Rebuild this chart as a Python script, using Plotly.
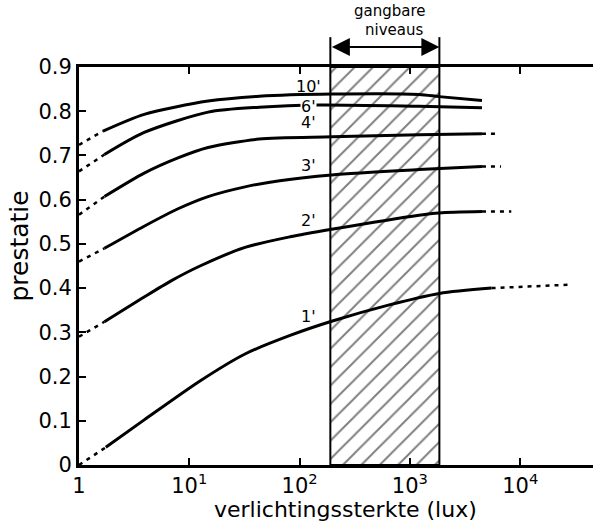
import math
import plotly.graph_objects as go

# ---------------- data ----------------
x_tick_vals = [1, 10, 100, 1000, 10000]
x_tick_text = ["1", "10<sup>1</sup>", "10<sup>2</sup>", "10<sup>3</sup>", "10<sup>4</sup>"]
y_tick_vals = [0, 0.1, 0.2, 0.3, 0.4, 0.5, 0.6, 0.7, 0.8, 0.9]
y_tick_text = ["0", "0.1", "0.2", "0.3", "0.4", "0.5", "0.6", "0.7", "0.8", "0.9"]
x_max_lux = 45700
y_max = 0.9

hatch_lux = [190, 1850]          # "gangbare niveaus"

curve_labels = ["10'", "6'", "4'", "3'", "2'", "1'"]
label_lux = 120
label_y = [0.857, 0.811, 0.774, 0.677, 0.554, 0.335]

# solid parts (lux, prestatie)
c10_x = [1.65, 3.9, 14.8, 43, 197, 1210, 1840, 4500]
c10_y = [0.755, 0.793, 0.823, 0.834, 0.839, 0.838, 0.833, 0.824]
c6_x = [1.7, 3.9, 14.8, 43, 150, 1210, 4500]
c6_y = [0.702, 0.752, 0.798, 0.809, 0.814, 0.811, 0.808]
c4_x = [1.7, 3.9, 8, 14.8, 43, 197, 1210, 4500]
c4_y = [0.607, 0.660, 0.695, 0.718, 0.737, 0.742, 0.747, 0.749]
c3_x = [1.7, 3.9, 8, 14.8, 32, 66, 195, 1210, 4500]
c3_y = [0.490, 0.540, 0.580, 0.607, 0.629, 0.643, 0.656, 0.668, 0.675]
c2_x = [1.7, 3.9, 6.9, 12.5, 32, 82, 195, 1210, 1850, 4500]
c2_y = [0.324, 0.380, 0.417, 0.450, 0.492, 0.516, 0.533, 0.565, 0.570, 0.573]
c1_x = [1.75, 3.9, 12.5, 32, 82, 195, 650, 1850, 5500]
c1_y = [0.040, 0.102, 0.190, 0.251, 0.293, 0.325, 0.362, 0.388, 0.400]

# dotted lead-in parts (from 1 lux)
lead10_x, lead10_y = [1, 1.65], [0.724, 0.755]
lead6_x, lead6_y = [1, 1.7], [0.664, 0.702]
lead4_x, lead4_y = [1, 1.7], [0.566, 0.607]
lead3_x, lead3_y = [1, 1.7], [0.460, 0.490]
lead2_x, lead2_y = [1, 1.7], [0.290, 0.324]
lead1_x, lead1_y = [1, 1.75], [0.000, 0.040]

# dotted extensions
tail4_x, tail4_y = [4500, 6500], [0.749, 0.749]
tail3_x, tail3_y = [4500, 6700], [0.675, 0.675]
tail2_x, tail2_y = [4500, 8300], [0.573, 0.573]
tail1_x, tail1_y = [5500, 29500], [0.400, 0.408]

# ---------------- figure ----------------
FONT = "DejaVu Sans"
fig = go.Figure()

# hatched region
hx = [hatch_lux[0], hatch_lux[1], hatch_lux[1], hatch_lux[0], hatch_lux[0]]
hy = [0, 0, y_max, y_max, 0]
fig.add_trace(go.Scatter(
    x=hx, y=hy, mode="lines", fill="toself",
    fillcolor="white",
    fillpattern=dict(shape="/", fgcolor="black", bgcolor="white", size=13, solidity=0.15),
    line=dict(color="black", width=2), hoverinfo="skip", showlegend=False))

solid = [(c10_x, c10_y), (c6_x, c6_y), (c4_x, c4_y), (c3_x, c3_y), (c2_x, c2_y), (c1_x, c1_y)]
for xs, ys in solid:
    fig.add_trace(go.Scatter(x=xs, y=ys, mode="lines",
                             line=dict(color="black", width=3, shape="spline", smoothing=0.75),
                             showlegend=False, hoverinfo="skip"))

dotted = [(lead10_x, lead10_y), (lead6_x, lead6_y), (lead4_x, lead4_y), (lead3_x, lead3_y),
          (lead2_x, lead2_y), (lead1_x, lead1_y),
          (tail4_x, tail4_y), (tail3_x, tail3_y), (tail2_x, tail2_y), (tail1_x, tail1_y)]
for xs, ys in dotted:
    fig.add_trace(go.Scatter(x=xs, y=ys, mode="lines",
                             line=dict(color="black", width=2.5, dash="4px,5px"),
                             showlegend=False, hoverinfo="skip"))

# curve labels
for lab, ly in zip(curve_labels, label_y):
    fig.add_annotation(x=math.log10(label_lux), y=ly, text=lab, showarrow=False,
                       font=dict(family=FONT, size=16, color="black"),
                       bgcolor="white" if lab == "6'" else None, borderpad=0)

# bracket above hatched region
top_paper = 1.075
for hxv in hatch_lux:
    fig.add_shape(type="line", xref="x", yref="paper",
                  x0=hxv, x1=hxv, y0=1, y1=top_paper,
                  line=dict(color="black", width=2))
arrow_paper = 1.05
fig.add_annotation(x=math.log10(hatch_lux[1]), y=arrow_paper, ax=math.log10(hatch_lux[0]), ay=0,
                   xref="x", yref="paper", axref="x", ayref="pixel", text="", showarrow=True,
                   arrowside="end+start", arrowhead=2, arrowsize=1.8, arrowwidth=2, arrowcolor="black")
bracket_mid = math.log10((hatch_lux[0] * hatch_lux[1]) ** 0.5) + 0.05
fig.add_annotation(x=bracket_mid, y=1.14, xref="x", yref="paper", yanchor="middle",
                   text="gangbare", showarrow=False, font=dict(family=FONT, size=15, color="black"))
fig.add_annotation(x=bracket_mid + 0.03, y=1.092, xref="x", yref="paper", yanchor="middle",
                   text="niveaus", showarrow=False, font=dict(family=FONT, size=15, color="black"))

# axis titles as annotations
fig.add_annotation(x=0.519, y=-0.148, xref="paper", yref="paper", text="verlichtingssterkte (lux)",
                   showarrow=False, font=dict(family=FONT, size=22, color="black"), yanchor="bottom")
fig.add_annotation(x=-0.115, y=0.551, xref="paper", yref="paper", text="prestatie", textangle=-90,
                   showarrow=False, font=dict(family=FONT, size=25, color="black"), xanchor="center")

fig.update_xaxes(type="log", range=[0, math.log10(x_max_lux)], tickvals=x_tick_vals, ticktext=x_tick_text,
                 ticks="inside", ticklen=7, tickwidth=2, tickcolor="black",
                 showline=True, linewidth=3, linecolor="black", mirror="ticks",
                 showgrid=False, zeroline=False,
                 tickfont=dict(family=FONT, size=21, color="black"))
fig.update_yaxes(range=[0, y_max], tickvals=y_tick_vals, ticktext=y_tick_text,
                 ticks="inside", ticklen=7, tickwidth=2, tickcolor="black",
                 showline=True, linewidth=3, linecolor="black",
                 showgrid=False, zeroline=False,
                 tickfont=dict(family=FONT, size=21, color="black"))

fig.update_layout(width=593, height=525, margin=dict(l=79, r=0, t=67, b=60),
                  plot_bgcolor="white", paper_bgcolor="white", showlegend=False)

fig.write_html("out.html")
